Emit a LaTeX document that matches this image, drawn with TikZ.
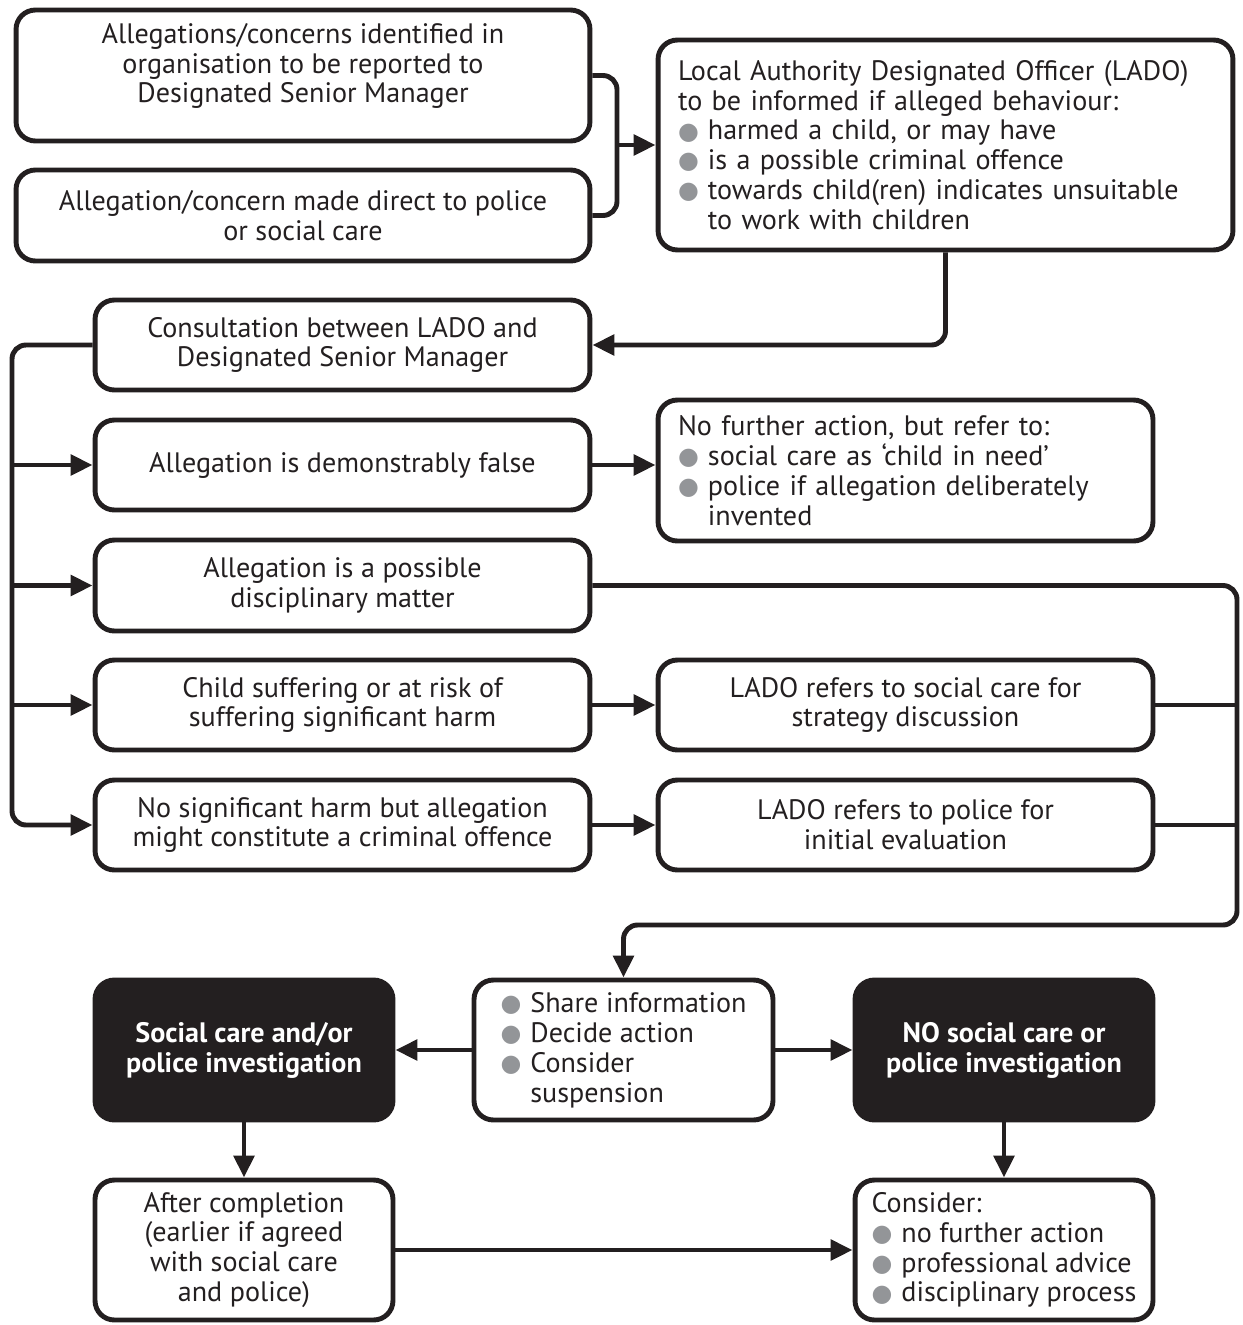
\documentclass[tikz,border=0pt]{standalone}
\usepackage{fontspec}
\usepackage{graphicx}
\setmainfont{PT Sans}
\newfontfamily\symfont{DejaVu Sans}
\usetikzlibrary{arrows.meta}
\usetikzlibrary{positioning}
\definecolor{ink}{HTML}{231F20}
\definecolor{bulgray}{HTML}{939598}
\newcommand{\bul}{\makebox[17pt][l]{\symfont\color{bulgray}\raisebox{0.5pt}{\scalebox{0.85}{●}}}}
\newcommand{\ind}{\hspace*{17pt}}

\begin{document}
\begin{tikzpicture}[
				x=0.02cm, y=-0.02cm,
				line width=2.8pt,
				font=\fontsize{16}{17}\selectfont,
				box/.style={draw=ink, rounded corners=11pt, align=center, inner sep=0pt, text=ink},
				listbox/.style={box, align=left, inner xsep=0.4cm},
				darkbox/.style={box, fill=ink, text=white, font=\fontsize{16}{17}\selectfont\bfseries},
				arrow/.style={draw=ink, rounded corners=8pt, -{Triangle[length=12.5pt,width=11.5pt]}},
				link/.style={draw=ink, rounded corners=8pt},
			]
				\useasboundingbox (0,0) rectangle (1243,1325);

				% top row
				\node (a1) [box, minimum width=11.48cm, minimum height=2.62cm] at (303,75.5) {};
				\node (a1text) [align=center, text=ink] at (303,66)
					{Allegations/concerns identified in\\organisation to be reported to\\Designated Senior Manager};
				\node (a2) [box, minimum width=11.48cm, minimum height=1.82cm] at (303,215.5)
					{Allegation/concern made direct to police\\or social care};
				\node (lado) [listbox, text width=10.7cm, minimum height=4.2cm] at (945.5,145)
					{Local Authority Designated Officer (LADO)\\
					to be informed if alleged behaviour:\\
					\bul harmed a child, or may have\\
					\bul is a possible criminal offence\\
					\bul towards child(ren) indicates unsuitable\\
					\ind to work with children};

				% options
				\node (consult) [box, minimum width=9.9cm, minimum height=1.8cm] at (342.5,345)
					{Consultation between LADO and\\Designated Senior Manager};
				\node (false) [box, minimum width=9.9cm, minimum height=1.8cm] at (342.5,465)
					{Allegation is demonstrably false};
				\node (nfa) [listbox, text width=9.1cm, minimum height=2.82cm] at (905.5,470.5)
					{No further action, but refer to:\\
					\bul social care as ‘child in need’\\
					\bul police if allegation deliberately\\
					\ind invented};
				\node (disc) [box, minimum width=9.9cm, minimum height=1.82cm] at (342.5,585.5)
					{Allegation is a possible\\disciplinary matter};
				\node (child) [box, minimum width=9.9cm, minimum height=1.8cm] at (342.5,705)
					{Child suffering or at risk of\\suffering significant harm};
				\node (ladosoc) [box, minimum width=9.9cm, minimum height=1.8cm] at (905.5,705)
					{LADO refers to social care for\\strategy discussion};
				\node (nosig) [box, minimum width=9.9cm, minimum height=1.8cm] at (342.5,825)
					{No significant harm but allegation\\might constitute a criminal offence};
				\node (ladopol) [box, minimum width=9.9cm, minimum height=1.8cm] at (905.5,825)
					{LADO refers to police for\\initial evaluation};

				% outcome
				\node (share) [box, align=left, minimum width=5.98cm, minimum height=2.8cm] at (623.5,1050)
					{\bul Share information\\\bul Decide action\\\bul Consider\\\ind suspension};
				\node (socinv) [darkbox, minimum width=5.96cm, minimum height=2.8cm] at (244,1050)
					{Social care and/or\\police investigation};
				\node (noinv) [darkbox, minimum width=5.96cm, minimum height=2.8cm] at (1004,1050)
					{NO social care or\\police investigation};
				\node (after) [box, minimum width=5.96cm, minimum height=2.8cm] at (244,1250)
					{After completion\\(earlier if agreed\\with social care\\and police)};
				\node (consider) [box, align=left, minimum width=5.96cm, minimum height=2.8cm] at (1004,1250)
					{Consider:\\\bul no further action\\\bul professional advice\\\bul disciplinary process};

				\coordinate (busA) at (617,145);
				\coordinate (busL) at (12,585.5);
				\coordinate (busR) at (1237,925);

				\draw[link] (a1.east) -| (busA) |- (a2.east);
				\draw[arrow] (busA) -- (lado.west);
				\draw[arrow] (lado.south) |- (consult.east);

				\draw[arrow] (consult.west) -| (busL) |- (nosig.west);
				\draw[arrow] (false.west -| busL) -- (false.west);
				\draw[arrow] (disc.west -| busL) -- (disc.west);
				\draw[arrow] (child.west -| busL) -- (child.west);

				\draw[arrow] (false.east) -- (false.east -| nfa.west);
				\draw[arrow] (child) -- (ladosoc);
				\draw[arrow] (nosig) -- (ladopol);

				\draw[arrow] (disc.east) -| (busR) -| (share.north);
				\draw[link] (ladosoc.east) -- (ladosoc.east -| busR);
				\draw[link] (ladopol.east) -- (ladopol.east -| busR);

				\draw[arrow] (share) -- (socinv);
				\draw[arrow] (share) -- (noinv);
				\draw[arrow] (socinv) -- (after);
				\draw[arrow] (noinv) -- (consider);
				\draw[arrow] (after) -- (consider);
			\end{tikzpicture}
\end{document}
